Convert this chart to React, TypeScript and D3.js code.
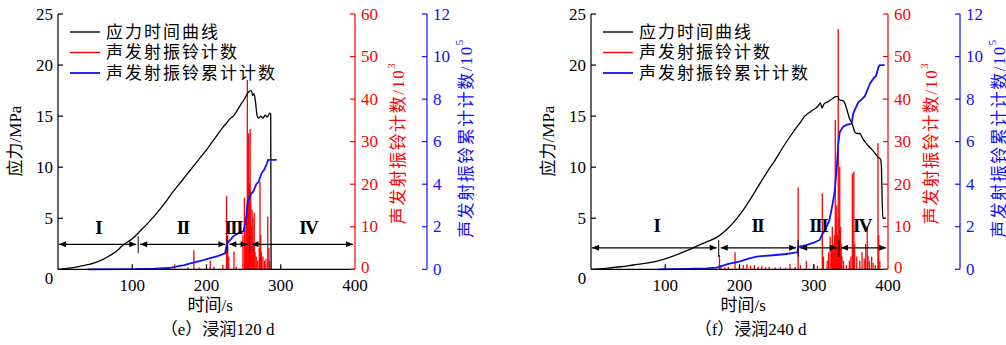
import React from 'react';
import * as d3 from 'd3';

// ---------- shared ticks & labels ----------
const timeTicks = [100, 200, 300, 400];
const stressTicks = [5, 10, 15, 20, 25];
const ringTicks = [0, 10, 20, 30, 40, 50, 60];
const cumTicks = [0, 2, 4, 6, 8, 10, 12];
const legendLabels = ['应力时间曲线', '声发射振铃计数', '声发射振铃累计计数'];
const stageNames = ['I', 'II', 'III', 'IV'];

// ---------- panel (e) 120 d ----------
const stressE: [number, number][] = [
  [0, 0], [12, 0.1], [20, 0.17], [30, 0.3], [40, 0.45], [48, 0.6], [60, 0.95], [70, 1.35],
  [80, 1.85], [88, 2.4], [100, 3.0], [110, 3.7], [122, 4.6], [133, 5.5], [144, 6.5], [155, 7.6],
  [166, 8.6], [178, 9.7], [189, 10.7], [200, 11.7], [212, 12.9], [222, 13.9], [228, 14.4],
  [231, 14.7], [236, 15.0], [245, 16.0], [252, 16.8], [256, 17.3], [259, 17.5], [261, 17.4],
  [262, 17.0], [264, 17.2], [266, 16.4], [268, 15.1], [270, 14.8], [273, 15.0], [276, 14.8],
  [279, 15.1], [282, 14.9], [285, 15.3], [286.5, 15.2], [287, 0],
];
const cumE: [number, number][] = [
  [40, 0], [100, 0.01], [130, 0.03], [150, 0.06], [160, 0.14], [170, 0.2], [178, 0.28],
  [192, 0.4], [205, 0.52], [215, 0.62], [225, 0.75], [227.5, 1.2], [236, 1.55], [244, 1.72],
  [250, 1.8], [253, 2.3], [255.5, 3.2], [260, 3.55], [263, 3.65], [267, 4.0], [270, 4.1],
  [274, 4.5], [278, 4.7], [281, 4.95], [283, 5.14], [294.5, 5.14],
];
const ringE: [number, number][] = [
  [157, 1.2], [175, 0.5], [183, 4.5], [190, 0.4], [205, 2], [210, 0.6], [222, 1], [227, 17.2],
  [228.5, 8], [230, 3], [237, 4.2], [240, 0.6], [249, 8], [251, 16.8], [252, 10], [253, 6],
  [254, 13], [255, 44.5], [256, 22], [256.8, 32], [258, 20], [258.8, 33], [259.6, 18],
  [260.5, 10], [261.5, 14], [262.5, 12], [263.5, 6], [264.3, 13.3], [265.5, 4], [267, 3],
  [269, 2], [271, 5], [272, 20.6], [273, 8], [274, 4], [276, 3], [278, 2], [280, 2.5],
  [282.5, 12.4], [284, 5], [285, 2],
];
const stagesE = [0, 108, 228, 258, 400];
const stageLabelE = [54, 168, 236, 337];

// ---------- panel (f) 240 d ----------
const stressF: [number, number][] = [
  [0, 0], [20, 0.1], [40, 0.25], [57, 0.42], [75, 0.6], [89, 0.8], [105, 1.15], [120, 1.55],
  [133, 1.95], [145, 2.35], [158, 2.75], [171, 3.2], [182, 3.85], [192, 4.6], [203, 5.6],
  [214, 6.8], [225, 8.1], [236, 9.4], [248, 10.7], [259, 12.0], [270, 13.2], [281, 14.3],
  [288, 15.0], [297, 15.5], [306, 16.0], [309, 16.3], [311, 15.8], [314, 16.2], [319, 16.4],
  [325, 16.7], [330, 16.9], [333, 16.9], [334, 16.6], [340, 16.5], [344, 15.8], [348, 14.8],
  [352, 14.2], [355, 13.5], [358, 13.3], [362, 13.3], [366, 12.8], [371, 12.3], [376, 11.9],
  [381, 11.5], [384, 11.2], [388, 10.9], [390, 10.8], [391, 10.2], [393, 5.0], [397, 5.0],
];
const cumF: [number, number][] = [
  [90, 0], [130, 0.02], [155, 0.04], [169, 0.08], [185, 0.25], [200, 0.36], [212, 0.5],
  [223, 0.6], [245, 0.66], [263, 0.72], [278, 0.8], [279.5, 1.06], [290, 1.14], [300, 1.25],
  [308, 1.38], [311, 1.6], [316, 1.9], [321, 2.3], [325, 3.0], [328, 3.6], [331, 4.8],
  [333, 5.9], [335, 6.45], [339.5, 6.7], [345, 6.8], [351, 6.84], [353, 7.3], [356, 7.55],
  [360, 7.85], [365, 8.0], [369, 8.15], [373, 8.5], [376, 8.75], [380, 8.95], [384, 9.1],
  [387, 9.5], [389, 9.6], [395.5, 9.6],
];
const ringF: [number, number][] = [
  [173, 3.4], [175, 1], [180, 0.5], [185, 0.6], [194, 4], [200, 0.6], [205, 1], [210, 1.2],
  [215, 0.8], [220, 1], [225, 0.6], [230, 0.8], [235, 0.5], [240, 0.6], [248, 0.4],
  [255, 0.5], [262, 0.4], [268, 1.2], [275, 0.6], [279, 19.3], [282, 1], [290, 2],
  [300, 1.2], [305, 0.8], [311.5, 17.9], [313, 3], [318, 2], [320, 4], [322, 7.7], [324, 5],
  [325, 10], [326, 4], [327, 6], [328, 8], [329, 35.1], [330, 12], [331, 15], [332, 8],
  [333, 56.5], [334, 12], [335, 24.1], [336, 10], [337, 6], [338, 3], [340, 2], [344, 1],
  [348, 2], [350, 3], [352, 22.5], [353, 5], [354, 23], [355, 6], [358, 3], [362, 2], [365, 4],
  [368, 2.5], [370, 6], [372, 10.2], [373, 3.2], [375, 2], [378, 3], [380, 1.5], [383, 1],
  [386.5, 29.6], [387.5, 8], [389, 2],
];
const stagesF = [0, 172, 279, 334, 400];
const stageLabelF = [88, 224, 306, 365];

const SERIF = '"Liberation Serif", "Times New Roman", "Noto Sans CJK SC", serif';
const RED = '#ff0000';
const BLUE = '#1010ff';

type PanelProps = {
  x0: number;
  stress: [number, number][];
  cum: [number, number][];
  ring: [number, number][];
  stages: number[];
  stageLabel: number[];
  arrowY: number;
  labelY: number;
  caption: string;
};

function Panel({ x0, stress, cum, ring, stages, stageLabel, arrowY, labelY, caption }: PanelProps) {
  const W = 297;
  const top = 14;
  const bottom = 269.3;
  const x = d3.scaleLinear().domain([0, 400]).range([x0, x0 + W]);
  const yS = d3.scaleLinear().domain([0, 25]).range([bottom, top]);
  const yR = d3.scaleLinear().domain([0, 60]).range([bottom, top]);
  const yC = d3.scaleLinear().domain([0, 12]).range([bottom, top]);
  const redX = x0 + W;
  const blueX = redX + 72;

  const lineS = d3.line<[number, number]>().x((d) => x(d[0])).y((d) => yS(d[1])).curve(d3.curveMonotoneX);
  const lineC = d3.line<[number, number]>().x((d) => x(d[0])).y((d) => yC(d[1]));

  const ay = yS(arrowY);
  const head = (px: number, dir: number) =>
    `M${px},${ay} L${px - dir * 7},${ay - 3} L${px - dir * 7},${ay + 3} Z`;

  return (
    <g>
      {ring.map((d, i) => (
        <line key={'r' + i} x1={x(d[0])} x2={x(d[0])} y1={yR(0)} y2={yR(d[1])} stroke={RED} strokeWidth={1.3} />
      ))}
      <path d={lineS(stress) || ''} fill="none" stroke="#000" strokeWidth={1.3} />
      <path d={lineC(cum) || ''} fill="none" stroke={BLUE} strokeWidth={1.8} />

      {stages.slice(0, -1).map((a, i) => {
        const b = stages[i + 1];
        const xa = x(a) + (i === 0 ? 1 : 2);
        const xb = x(b) - 2;
        return (
          <g key={'st' + i}>
            <line x1={xa} x2={xb} y1={ay} y2={ay} stroke="#000" strokeWidth={1.2} />
            <path d={head(xa, -1)} fill="#000" />
            <path d={head(xb, 1)} fill="#000" />
          </g>
        );
      })}
      {stages.slice(1, -1).map((b, i) => (
        <line key={'sb' + i} x1={x(b)} x2={x(b)} y1={ay - 8} y2={ay + 9} stroke="#000" strokeWidth={1} />
      ))}
      {stageLabel.map((t, i) => (
        <text key={'sl' + i} x={x(t)} y={yS(labelY)} textAnchor="middle" dominantBaseline="central"
          fontFamily={SERIF} fontSize={19} fontWeight="bold" letterSpacing={-1.5}>{stageNames[i]}</text>
      ))}

      <line x1={x0} x2={x0} y1={top} y2={bottom} stroke="#000" strokeWidth={1.2} />
      <line x1={x0} x2={redX} y1={bottom} y2={bottom} stroke="#000" strokeWidth={1.2} />
      {stressTicks.map((t) => (
        <g key={'ys' + t}>
          <line x1={x0} x2={x0 + 5} y1={yS(t)} y2={yS(t)} stroke="#000" strokeWidth={1.2} />
          <text x={x0 - 5} y={yS(t)} textAnchor="end" dominantBaseline="central" fontFamily={SERIF} fontSize={17}>{t}</text>
        </g>
      ))}
      <text x={x0 - 9} y={bottom + 9} textAnchor="middle" dominantBaseline="central" fontFamily={SERIF} fontSize={17}>0</text>
      {timeTicks.map((t) => (
        <g key={'xt' + t}>
          {t < 400 && <line x1={x(t)} x2={x(t)} y1={bottom} y2={bottom - 5} stroke="#000" strokeWidth={1.2} />}
          <text x={x(t)} y={bottom + 16} textAnchor="middle" dominantBaseline="central" fontFamily={SERIF} fontSize={17}>{t}</text>
        </g>
      ))}

      <line x1={redX} x2={redX} y1={top} y2={bottom} stroke={RED} strokeWidth={1.2} />
      {ringTicks.map((t) => (
        <g key={'yr' + t}>
          <line x1={redX - 5} x2={redX} y1={yR(t)} y2={yR(t)} stroke={RED} strokeWidth={1.2} />
          <text x={redX + 6} y={yR(t) - (t === 0 ? 2 : 0)} textAnchor="start" dominantBaseline="central" fontFamily={SERIF} fontSize={17} fill={RED}>{t}</text>
        </g>
      ))}
      <line x1={blueX} x2={blueX} y1={top} y2={bottom} stroke={BLUE} strokeWidth={1.2} />
      {cumTicks.map((t) => (
        <g key={'yc' + t}>
          <line x1={blueX - 5} x2={blueX} y1={yC(t)} y2={yC(t)} stroke={BLUE} strokeWidth={1.2} />
          <text x={blueX + 6} y={yC(t)} textAnchor="start" dominantBaseline="central" fontFamily={SERIF} fontSize={17} fill={BLUE}>{t}</text>
        </g>
      ))}

      <text transform={`translate(${x0 - 43},${141}) rotate(-90)`} textAnchor="middle" dominantBaseline="central"
        fontFamily={SERIF} fontSize={17}>应力/MPa</text>
      <text transform={`translate(${redX + 43},${143}) rotate(-90)`} textAnchor="middle" dominantBaseline="central"
        fontFamily={SERIF} fontSize={17} fill={RED} letterSpacing={1.5}>声发射振铃计数/10<tspan fontSize={11} dy={-7}>3</tspan></text>
      <text transform={`translate(${blueX + 39},${138}) rotate(-90)`} textAnchor="middle" dominantBaseline="central"
        fontFamily={SERIF} fontSize={17} fill={BLUE} letterSpacing={1.5}>声发射振铃累计计数/10<tspan fontSize={11} dy={-7}>5</tspan></text>
      <text x={x(205)} y={305} textAnchor="middle" dominantBaseline="central" fontFamily={SERIF} fontSize={17}>时间/s</text>
      <text x={x(215)} y={329} textAnchor="middle" dominantBaseline="central" fontFamily={SERIF} fontSize={17}>{caption}</text>

      {legendLabels.map((l, i) => {
        const ly = 32 + i * 20.5;
        const col = i === 0 ? '#000' : i === 1 ? RED : BLUE;
        return (
          <g key={'lg' + i}>
            <line x1={x0 + 12} x2={x0 + 42} y1={ly} y2={ly} stroke={col} strokeWidth={i === 2 ? 1.8 : 1.4} />
            <text x={x0 + 48} y={ly} dominantBaseline="central" fontFamily={SERIF} fontSize={17} letterSpacing={2}>{l}</text>
          </g>
        );
      })}
    </g>
  );
}

export default function App() {
  return (
    <svg width={1006} height={345} style={{ position: 'absolute', left: 0, top: 0, background: '#fff' }}>
      <rect x={0} y={0} width={1006} height={345} fill="#fff" />
      <Panel x0={58} stress={stressE} cum={cumE} ring={ringE} stages={stagesE} stageLabel={stageLabelE}
        arrowY={2.45} labelY={4.1} caption="（e）浸润120 d" />
      <Panel x0={591} stress={stressF} cum={cumF} ring={ringF} stages={stagesF} stageLabel={stageLabelF}
        arrowY={2.1} labelY={4.25} caption="（f）浸润240 d" />
    </svg>
  );
}
